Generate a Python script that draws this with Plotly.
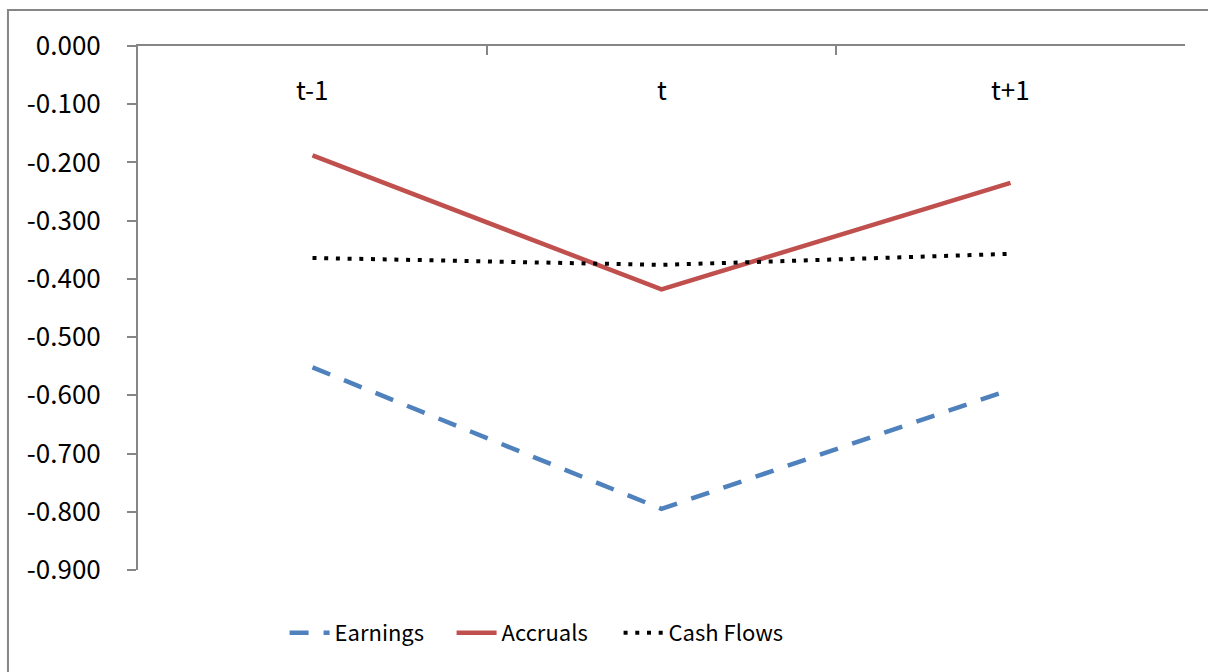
import plotly.graph_objects as go

categories = ["t-1", "t", "t+1"]
earnings = [-0.552, -0.795, -0.590]
accruals = [-0.188, -0.418, -0.235]
cash_flows = [-0.364, -0.376, -0.357]
y_tickvals = [0.0, -0.1, -0.2, -0.3, -0.4, -0.5, -0.6, -0.7, -0.8, -0.9]
y_ticktext = ["0.000", "-0.100", "-0.200", "-0.300", "-0.400", "-0.500",
              "-0.600", "-0.700", "-0.800", "-0.900"]

FONT = "Noto Sans CJK KR, sans-serif"
fig = go.Figure()
fig.add_trace(go.Scatter(x=categories, y=earnings, name="Earnings", mode="lines",
                         line=dict(color="#4F81BD", width=4.5, dash="19px,15px")))
fig.add_trace(go.Scatter(x=categories, y=accruals, name="Accruals", mode="lines",
                         line=dict(color="#C0504D", width=4.5)))
fig.add_trace(go.Scatter(x=categories, y=cash_flows, name="Cash Flows", mode="lines",
                         line=dict(color="#000000", width=4, dash="4px,7.7px")))

annotations = [dict(x=c, y=0.918, xref="x", yref="paper", text=c, showarrow=False,
                    xanchor="center", yanchor="middle", font=dict(size=26))
               for c in categories]

fig.update_layout(
    width=1208, height=672,
    margin=dict(l=138, r=23, t=46, b=102),
    paper_bgcolor="white", plot_bgcolor="white",
    font=dict(family=FONT, size=26, color="#000000"),
    showlegend=True,
    legend=dict(orientation="h", x=0.14, y=-0.12, xanchor="left", yanchor="middle",
                font=dict(size=22), itemwidth=40, tracegroupgap=0,
                entrywidth=112, entrywidthmode="pixels"),
    xaxis=dict(type="category", categoryorder="array", categoryarray=categories,
               range=[-0.5, 2.5], side="top", tickson="boundaries",
               ticks="inside", ticklen=9, tickcolor="#868686", tickwidth=2,
               showticklabels=False,
               showline=True, linecolor="#868686", linewidth=2,
               showgrid=False, zeroline=False),
    yaxis=dict(range=[-0.9, 0.0], tickvals=y_tickvals, ticktext=y_ticktext,
               ticks="outside", ticklen=9, tickcolor="#868686", tickwidth=2,
               ticklabelstandoff=21,
               showline=True, linecolor="#868686", linewidth=2,
               showgrid=False, zeroline=False, tickfont=dict(size=26)),
    annotations=annotations,
    shapes=[dict(type="rect", xref="paper", yref="paper",
                 x0=-0.1242, x1=1.2, y0=-0.4, y1=1.0687,
                 line=dict(color="#868686", width=2), fillcolor="rgba(0,0,0,0)",
                 layer="below")],
)

fig.write_html("out.html")
